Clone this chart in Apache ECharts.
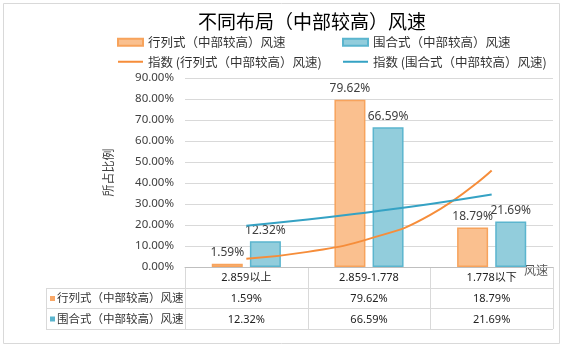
<!DOCTYPE html>
<html>
<head>
<meta charset="utf-8">
<script src="https://cdn.jsdelivr.net/npm/echarts@6/dist/echarts.min.js"></script>
<style>
    html, body { margin: 0; padding: 0; background: #fff; }
    #chart { width: 565px; height: 349px; }
</style>
</head>
<body>
<div id="chart"></div>
<script>
// 数据
const categories = ['2.859以上', '2.859-1.778', '1.778以下'];
const seriesNames = ['行列式（中部较高）风速', '围合式（中部较高）风速'];
const rowValues = [1.59, 79.62, 18.79];      // 行列式
const encValues = [12.32, 66.59, 21.69];     // 围合式
// 指数趋势线，按图上位置估读 [类别位置, 百分比]
const rowTrend = [[1, 3.9], [1.5, 7.2], [2, 13.4], [2.5, 24.8], [3, 46.0]];
const encTrend = [[1, 19.7], [1.5, 22.6], [2, 26.1], [2.5, 30.0], [3, 34.5]];
const yTicks = { min: 0, max: 90, interval: 10 };

const ORANGE_FILL = '#FAC08F', ORANGE_EDGE = '#F7A35C', ORANGE_LINE = '#F68D3A';
const BLUE_FILL = '#92CDDC', BLUE_EDGE = '#5BB5CE', BLUE_LINE = '#35A2C4';
const GRID = { left: 185, right: 12, top: 78, bottom: 82 };
const TXT = '#404040';
// 图例中的细线图标（两端的极小点用来撑开包围盒）
const LINE_ICON = 'path://M0,0L0.01,0L0.01,0.01Z M0,2.6L25,2.6L25,4.4L0,4.4Z M24.99,6.99L25,6.99L25,7Z';

const pct = v => v.toFixed(2) + '%';

// 表格（图表下方的数据表）
function buildTable() {
    const W = 565;
    const x0 = GRID.left, x1 = W - GRID.right;
    const colW = (x1 - x0) / categories.length;
    const rows = [267, 288, 308, 329];
    const labelLeft = 46;
    const line = '#D9D9D9';
    const g = [];
    const hline = (xa, xb, y) => g.push({ type: 'line', shape: { x1: xa, y1: y, x2: xb, y2: y }, style: { stroke: line, lineWidth: 1 }, silent: true });
    const vline = (x, ya, yb) => g.push({ type: 'line', shape: { x1: x, y1: ya, x2: x, y2: yb }, style: { stroke: line, lineWidth: 1 }, silent: true });

    hline(x0, x1, rows[0] + 0.5);
    for (let i = 1; i < rows.length; i++) hline(labelLeft, x1, rows[i] + 0.5);
    vline(labelLeft + 0.5, rows[1], rows[3]);
    for (let c = 0; c <= categories.length; c++) vline(Math.round(x0 + c * colW) + 0.5, rows[0], rows[3]);

    const data = [rowValues, encValues];
    data.forEach((vals, r) => {
        const yc = (rows[r + 1] + rows[r + 2]) / 2 + 1;
        g.push({ type: 'rect', shape: { x: 50, y: yc - 3, width: 5, height: 5 }, style: { fill: r === 0 ? '#F9A868' : '#5BB5CE' }, silent: true });
        g.push({ type: 'text', left: 57, top: yc - 7, style: { text: seriesNames[r], fill: '#333', font: '11.5px "Noto Sans CJK SC"' }, silent: true });
        vals.forEach((v, c) => {
            g.push({
                type: 'text', x: x0 + (c + 0.5) * colW, y: yc,
                style: { text: pct(v), fill: '#222', font: '11px "Noto Sans", sans-serif', align: 'center', verticalAlign: 'middle' },
                silent: true
            });
        });
    });
    // 轴名称“风速”
    g.push({ type: 'text', left: 524, top: 264, style: { text: '风速', fill: '#595959', font: '12px "Noto Sans CJK SC"' }, silent: true });
    // 外边框
    g.push({ type: 'rect', shape: { x: 3.5, y: 3.5, width: 556, height: 340 }, style: { fill: 'none', stroke: '#D9D9D9', lineWidth: 1 }, silent: true, z: -1 });
    return g;
}

const chart = echarts.init(document.getElementById('chart'), null, { renderer: 'canvas' });

const legendText = { color: '#333', fontSize: 12.5, fontFamily: '"Noto Sans CJK SC"' };

const option = {
    animation: false,
    textStyle: { fontFamily: '"Noto Sans", "Noto Sans CJK SC", sans-serif' },
    title: {
        text: '不同布局（中部较高）风速',
        left: 193, top: 7,
        textStyle: { fontSize: 19, fontWeight: 'normal', color: '#000', fontFamily: '"Noto Sans CJK SC"' }
    },
    legend: [
        {
            orient: 'vertical', left: 117, top: 36, padding: 0, itemWidth: 25, itemHeight: 7, itemGap: 7,
            textStyle: legendText,
            data: [{ name: seriesNames[0], icon: 'rect' }, { name: '指数 (' + seriesNames[0] + ')', icon: LINE_ICON }]
        },
        {
            orient: 'vertical', left: 342, top: 36, padding: 0, itemWidth: 25, itemHeight: 7, itemGap: 7,
            textStyle: legendText,
            data: [{ name: seriesNames[1], icon: 'rect' }, { name: '指数 (' + seriesNames[1] + ')', icon: LINE_ICON }]
        }
    ],
    grid: Object.assign({ outerBoundsMode: 'none' }, GRID),
    xAxis: [
        {
            type: 'category',
            data: categories,
            axisLine: { lineStyle: { color: '#BFBFBF' } },
            axisTick: { show: false },
            axisLabel: { color: '#222', fontSize: 11, margin: 5 }
        },
        { type: 'value', min: 0.5, max: 3.5, show: false }
    ],
    yAxis: {
        type: 'value',
        min: yTicks.min, max: yTicks.max, interval: yTicks.interval,
        name: '所占比例',
        nameLocation: 'middle', nameRotate: 90, nameGap: 71,
        nameTextStyle: { color: TXT, fontSize: 12, fontFamily: '"Noto Sans CJK SC"' },
        axisLine: { show: false },
        axisTick: { show: false },
        axisLabel: { color: TXT, fontSize: 11.5, margin: 11, formatter: v => pct(v) },
        splitLine: { lineStyle: { color: '#D9D9D9', width: 1 } }
    },
    series: [
        {
            name: seriesNames[0], type: 'bar', data: rowValues,
            barWidth: 31, barGap: '23%',
            itemStyle: { color: ORANGE_FILL, borderColor: ORANGE_EDGE, borderWidth: 1.5 },
            label: { show: true, position: 'top', distance: 5, color: TXT, fontSize: 12, formatter: p => pct(p.value) }
        },
        {
            name: seriesNames[1], type: 'bar', data: encValues,
            barWidth: 31,
            itemStyle: { color: BLUE_FILL, borderColor: BLUE_EDGE, borderWidth: 1.5 },
            label: { show: true, position: 'top', distance: 5, color: TXT, fontSize: 12, formatter: p => pct(p.value) }
        },
        {
            name: '指数 (' + seriesNames[0] + ')', type: 'line', xAxisIndex: 1,
            data: rowTrend, smooth: true, symbol: 'none', z: 5,
            itemStyle: { color: ORANGE_LINE },
            lineStyle: { color: ORANGE_LINE, width: 2 }
        },
        {
            name: '指数 (' + seriesNames[1] + ')', type: 'line', xAxisIndex: 1,
            data: encTrend, smooth: true, symbol: 'none', z: 5,
            itemStyle: { color: BLUE_LINE },
            lineStyle: { color: BLUE_LINE, width: 2 }
        }
    ],
    graphic: buildTable()
};

chart.setOption(option);
</script>
</body>
</html>
